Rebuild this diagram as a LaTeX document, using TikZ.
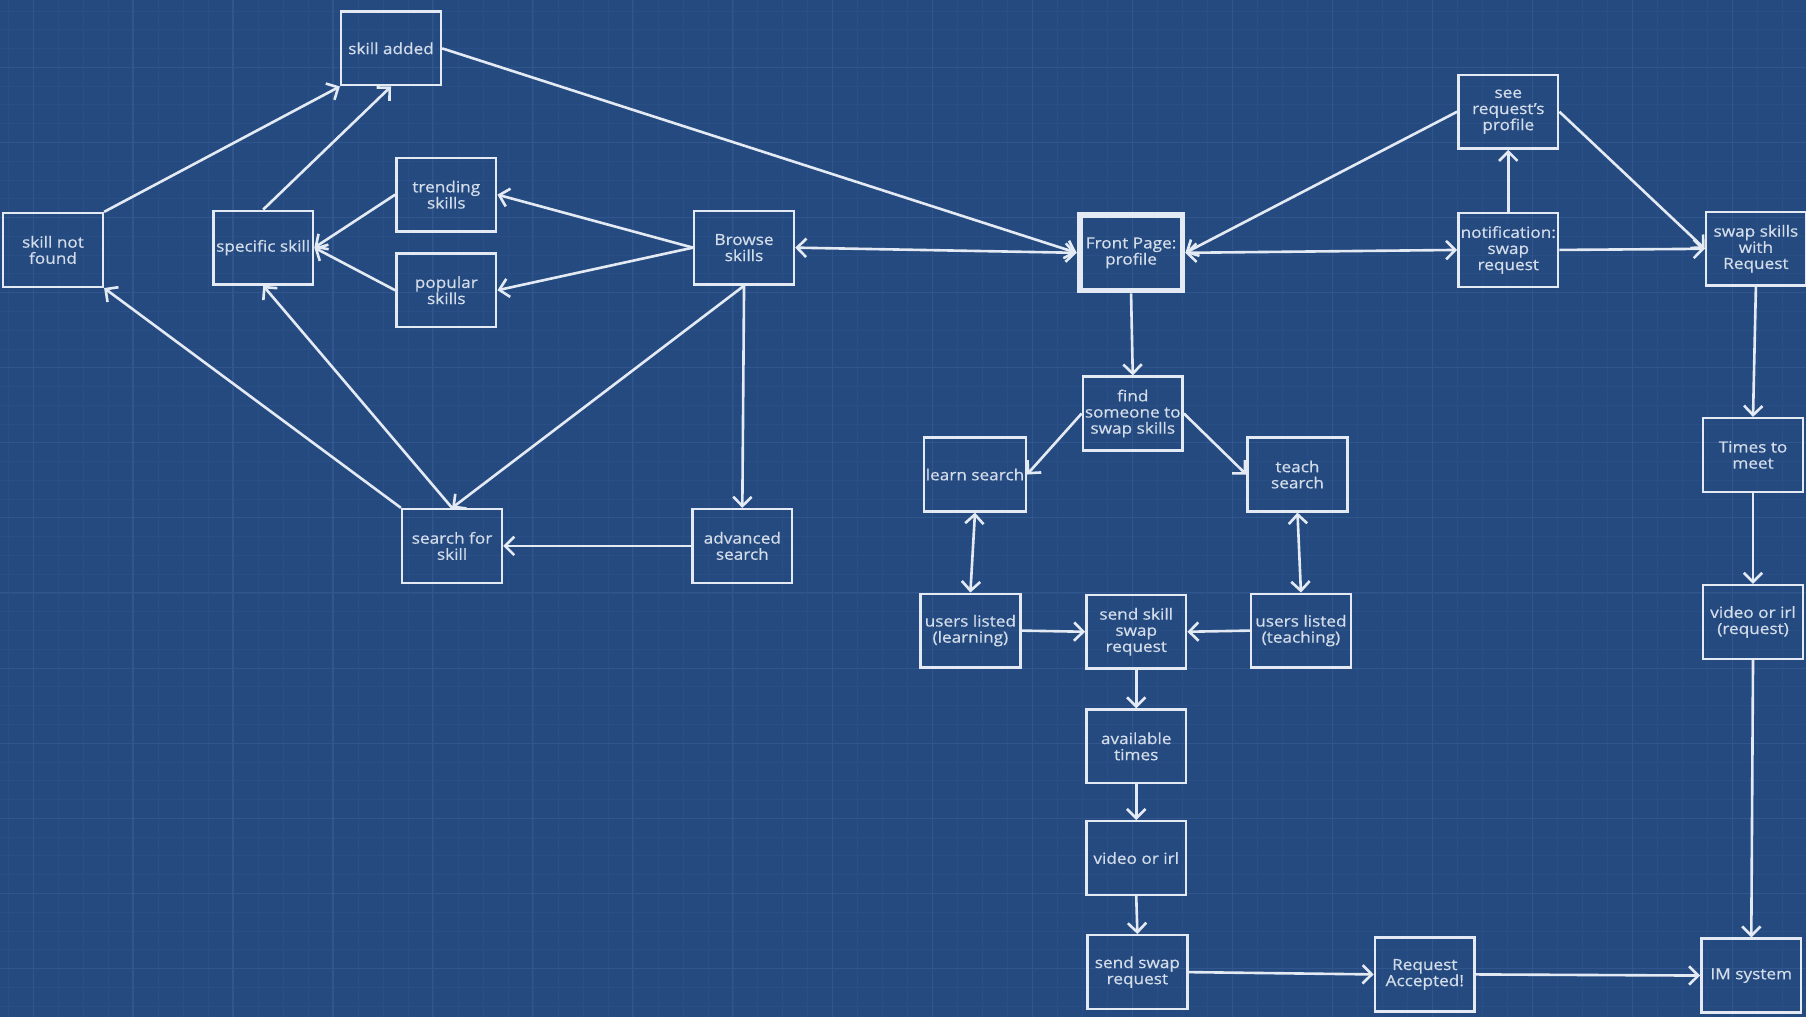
\documentclass[tikz,border=0pt]{standalone}
\usepackage{fontspec}
\setmainfont{Open Sans}[FakeStretch=1.12,FakeBold=0.6]
\usetikzlibrary{arrows.meta}

\definecolor{bgblue}{HTML}{254A80}
\definecolor{gridminor}{HTML}{2A4F86}
\definecolor{gridmajor}{HTML}{30568D}
\definecolor{linewhite}{HTML}{E4EAF3}
\definecolor{textwhite}{HTML}{D3DCE9}

\tikzset{
  box/.style={draw=linewhite, line width=1.6pt, minimum width=65pt, minimum height=48pt,
    inner sep=1pt, align=center, text=textwhite, font=\fontsize{10}{10.5}\selectfont},
  mainbox/.style={box, line width=3.8pt, minimum width=67pt, minimum height=49pt},
  link/.style={draw=linewhite, line width=1.7pt, line join=round},
  >={Straight Barb[length=6pt,width=12pt]}
}

\begin{document}
\begin{tikzpicture}[x=0.75pt,y=0.75pt,yscale=-1,xscale=1]
    \useasboundingbox (0,0) rectangle (1568,883);
    \clip (0,0) rectangle (1568,883);

    %Background and grid
    \fill[bgblue] (0,0) rectangle (1568,883);
    \foreach \i in {-1,...,72} {\draw[gridminor, line width=0.5pt] ({28.7+21.7*\i},0) -- ++(0,883);}
    \foreach \i in {-4,...,54} {\draw[gridminor, line width=0.5pt] (0,{58.4+16.3*\i}) -- ++(1568,0);}
    \foreach \i in {0,...,18} {\draw[gridmajor, line width=0.7pt] ({28.7+86.8*\i},0) -- ++(0,883);}
    \foreach \i in {-1,...,13} {\draw[gridmajor, line width=0.7pt] (0,{58.4+65.2*\i}) -- ++(1568,0);}

    % Skill nodes
    \draw (46,217) node [box] (notfound) {skill not\\found};
    \draw (339.5,42) node [box] (added) {skill added};
    \draw (228.5,215) node [box] (specific) {specific skill};
    \draw (387.5,169) node [box] (trending) {trending\\skills};
    \draw (387.5,252) node [box] (popular) {popular\\skills};
    \draw (646,215) node [box] (browse) {Browse\\skills};
    \draw (392.5,474) node [box] (search) {search for\\skill};
    \draw (644.5,474) node [box] (advanced) {advanced\\search};

    % Profile and requests
    \draw (982,219.5) node [mainbox] (front) {Front Page:\\profile};
    \draw (1309.5,97) node [box] (seeprof) {see\\request's\\profile};
    \draw (1309.5,217) node [box] (notif) {notification:\\swap\\request};
    \draw (1524.5,216) node [box] (swapreq) {swap skills\\with\\Request};
    \draw (1522,395) node [box] (times) {Times to\\meet};
    \draw (1522,540) node [box] (videoreq) {video or irl\\(request)};
    \draw (1520.5,847) node [box] (imsys) {IM system};

    % Finding a partner
    \draw (983.5,359) node [box] (find) {find\\someone to\\swap skills};
    \draw (846.5,412) node [box] (learn) {learn search};
    \draw (1126.5,412) node [box] (teach) {teach\\search};
    \draw (842.5,547.5) node [box] (uslearn) {users listed\\(learning)};
    \draw (986.5,548.5) node [box] (sendskill) {send skill\\swap\\request};
    \draw (1129.5,547.5) node [box] (usteach) {users listed\\(teaching)};
    \draw (986.5,648) node [box] (avail) {available\\times};
    \draw (986.5,745) node [box] (video) {video or irl};
    \draw (987.5,844) node [box] (sendswap) {send swap\\request};
    \draw (1237,846) node [box] (accepted) {Request\\Accepted!};

    %Straight Lines
    \draw[link,->] (notfound.north east) -- (added.south west);
    \draw[link,->] (specific.north) -- (added.south);
    \draw[link,->] (added.east) -- (front.west);
    \draw[link,->] (trending.west) -- (specific.east);
    \draw[link,->] (popular.west) -- (specific.east);
    \draw[link,->] (browse.west) -- (trending.east);
    \draw[link,->] (browse.west) -- (popular.east);
    \draw[link,<->] (browse.east) -- (front.west);
    \draw[link,->] (browse.south) -- (search.north);
    \draw[link,->] (browse.south) -- (advanced.north);
    \draw[link,->] (advanced.west) -- (search.east);
    \draw[link,->] (search.north west) -- (notfound.south east);
    \draw[link,->] (search.north) -- (specific.south);

    \draw[link,->] (seeprof.west) -- (front.east);
    \draw[link,<->] (front.east) -- (notif.west);
    \draw[link,->] (notif.north) -- (seeprof.south);
    \draw[link,->] (seeprof.east) -- (swapreq.west);
    \draw[link,->] (notif.east) -- (swapreq.west);
    \draw[link,->] (swapreq.south) -- (times.north);
    \draw[link,->] (times.south) -- (videoreq.north);
    \draw[link,->] (videoreq.south) -- (imsys.north);

    \draw[link,->] (front.south) -- (find.north);
    \draw[link,->] (find.west) -- (learn.east);
    \draw[link,->] (find.east) -- (teach.west);
    \draw[link,<->] (learn.south) -- (uslearn.north);
    \draw[link,<->] (teach.south) -- (usteach.north);
    \draw[link,->] (uslearn.east) -- (sendskill.west);
    \draw[link,->] (usteach.west) -- (sendskill.east);
    \draw[link,->] (sendskill.south) -- (avail.north);
    \draw[link,->] (avail.south) -- (video.north);
    \draw[link,->] (video.south) -- (sendswap.north);
    \draw[link,->] (sendswap.east) -- (accepted.west);
    \draw[link,->] (accepted.east) -- (imsys.west);
\end{tikzpicture}
\end{document}
